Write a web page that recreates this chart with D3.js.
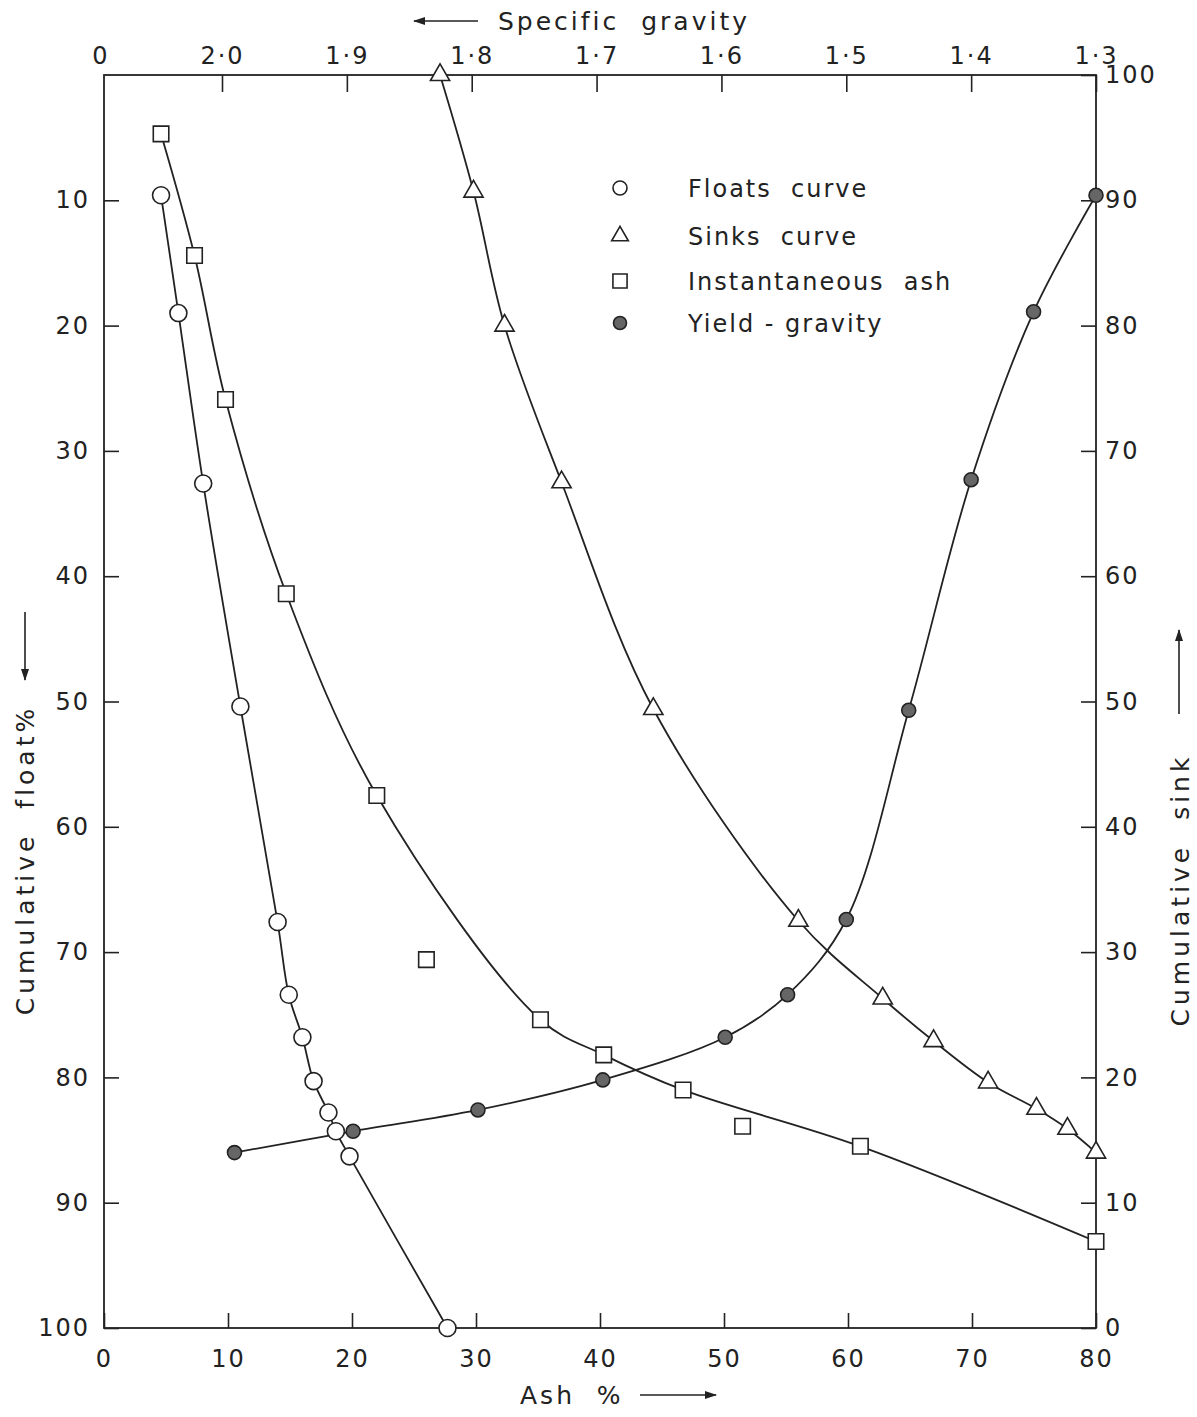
<!DOCTYPE html>
<html>
<head>
<meta charset="utf-8">
<script src="https://cdn.jsdelivr.net/npm/d3@7"></script>
<style>
  body { margin: 0; background: #fff; }
  text { font-family: "DejaVu Sans", sans-serif; fill: #222; white-space: pre; }
</style>
</head>
<body>
<div id="chart"></div>
<script>
// floats curve: ash % vs cumulative float %
var floatAsh   = [4.6, 6.0, 8.0, 11.0, 14.0, 14.9, 16.0, 16.9, 18.1, 18.7, 19.8, 27.7];
var floatCum   = [9.6, 19.0, 32.6, 50.4, 67.6, 73.4, 76.8, 80.3, 82.8, 84.3, 86.3, 100];

// sinks curve: ash % vs cumulative sink %
var sinkAsh    = [27.1, 29.8, 32.3, 36.9, 44.3, 56.0, 62.8, 66.9, 71.3, 75.2, 77.7, 80];
var sinkCum    = [100, 90.7, 80.0, 67.5, 49.4, 32.5, 26.3, 22.9, 19.6, 17.5, 15.9, 14.0];

// instantaneous ash: ash % vs cumulative float % (0 = point off the drawn curve)
var instAsh    = [4.6, 7.3, 9.8, 14.7, 22.0, 26.0, 35.2, 40.3, 46.7, 51.5, 61.0, 80];
var instFloat  = [4.7, 14.4, 25.9, 41.4, 57.5, 70.6, 75.4, 78.2, 81.0, 83.9, 85.5, 93.1];
var instOnCurve = [1, 1, 1, 1, 1, 0, 1, 1, 1, 0, 1, 1];

// yield-gravity: specific gravity vs cumulative float %
var yieldSG    = [1.99, 1.895, 1.795, 1.695, 1.597, 1.547, 1.5, 1.45, 1.4, 1.35, 1.3];
var yieldFloat = [86.0, 84.3, 82.6, 80.2, 76.8, 73.4, 67.4, 50.7, 32.3, 18.9, 9.6];

// ticks
var ashTicks   = [0, 10, 20, 30, 40, 50, 60, 70, 80];
var sgTicks    = [2.0, 1.9, 1.8, 1.7, 1.6, 1.5, 1.4, 1.3];
var floatTicks = [10, 20, 30, 40, 50, 60, 70, 80, 90, 100];
var sinkTicks  = [0, 10, 20, 30, 40, 50, 60, 70, 80, 90, 100];

var legendLabels = ['Floats  curve', 'Sinks  curve', 'Instantaneous  ash', 'Yield - gravity'];

var chart_width = 1197;
var chart_height = 1417;
var ink = '#222';

var svg = d3.select('#chart')
	.append('svg')
	.attr('width', chart_width)
	.attr('height', chart_height);

var x = d3.scaleLinear().domain([0, 80]).range([104, 1096]);
var sg = d3.scaleLinear().domain([2.0, 1.3]).range([222, 1096]);
var yFloat = d3.scaleLinear().domain([0, 100]).range([75, 1328]);
var ySink = d3.scaleLinear().domain([0, 100]).range([1328, 75]);

// arrow heads
var defs = svg.append('defs');
defs.append('marker')
	.attr('id', 'head')
	.attr('viewBox', '0 0 12 8')
	.attr('refX', 11).attr('refY', 4)
	.attr('markerWidth', 13).attr('markerHeight', 8)
	.attr('markerUnits', 'userSpaceOnUse')
	.attr('orient', 'auto')
	.append('path')
	.attr('d', 'M0,0 L12,4 L0,8 Z')
	.attr('fill', ink);

// frame
svg.append('rect')
	.attr('x', x(0)).attr('y', yFloat(0))
	.attr('width', x(80) - x(0)).attr('height', yFloat(100) - yFloat(0))
	.attr('fill', 'none').attr('stroke', ink).attr('stroke-width', 1.8);

function styleAxis(g) {
	g.select('.domain').remove();
	g.selectAll('line').attr('stroke', ink).attr('stroke-width', 1.6);
	g.selectAll('text')
		.attr('font-size', 24)
		.attr('letter-spacing', 2)
		.attr('fill', ink)
		.style('font-family', '"DejaVu Sans", sans-serif');
}

svg.append('g')
	.attr('transform', 'translate(0,' + yFloat(100) + ')')
	.call(d3.axisBottom(x).tickValues(ashTicks).tickSize(-15).tickPadding(22))
	.call(styleAxis);

svg.append('g')
	.attr('transform', 'translate(0,' + yFloat(0) + ')')
	.call(d3.axisTop(sg).tickValues(sgTicks).tickSize(-17).tickPadding(11)
		.tickFormat(function(d){ return d.toFixed(1).replace('.', '\u00b7'); }))
	.call(styleAxis);

svg.append('g')
	.attr('transform', 'translate(' + x(0) + ',0)')
	.call(d3.axisLeft(yFloat).tickValues(floatTicks).tickSize(-15).tickPadding(14))
	.call(styleAxis);

svg.append('g')
	.attr('transform', 'translate(' + x(80) + ',0)')
	.call(d3.axisRight(ySink).tickValues(sinkTicks).tickSize(-15).tickPadding(9))
	.call(styleAxis);

// corner label of the top scale
svg.append('text')
	.attr('x', x(0) - 4).attr('y', 64)
	.attr('text-anchor', 'middle')
	.attr('font-size', 24)
	.text('0');

// axis titles
svg.append('text')
	.attr('x', 498).attr('y', 30)
	.attr('font-size', 25).attr('letter-spacing', 3)
	.text('Specific  gravity');
svg.append('line')
	.attr('x1', 478).attr('y1', 21).attr('x2', 414).attr('y2', 21)
	.attr('stroke', ink).attr('stroke-width', 1.6)
	.attr('marker-end', 'url(#head)');

svg.append('text')
	.attr('x', 520).attr('y', 1404)
	.attr('font-size', 25).attr('letter-spacing', 3)
	.text('Ash  %');
svg.append('line')
	.attr('x1', 640).attr('y1', 1395).attr('x2', 716).attr('y2', 1395)
	.attr('stroke', ink).attr('stroke-width', 1.6)
	.attr('marker-end', 'url(#head)');

svg.append('text')
	.attr('transform', 'translate(34,860) rotate(-90)')
	.attr('text-anchor', 'middle')
	.attr('font-size', 25).attr('letter-spacing', 4)
	.text('Cumulative  float%');
svg.append('line')
	.attr('x1', 25).attr('y1', 612).attr('x2', 25).attr('y2', 680)
	.attr('stroke', ink).attr('stroke-width', 1.6)
	.attr('marker-end', 'url(#head)');

svg.append('text')
	.attr('transform', 'translate(1189,890) rotate(-90)')
	.attr('text-anchor', 'middle')
	.attr('font-size', 25).attr('letter-spacing', 4)
	.text('Cumulative  sink');
svg.append('line')
	.attr('x1', 1179).attr('y1', 714).attr('x2', 1179).attr('y2', 630)
	.attr('stroke', ink).attr('stroke-width', 1.6)
	.attr('marker-end', 'url(#head)');

// curves
var floatPts = floatAsh.map(function(d, i){ return [x(d), yFloat(floatCum[i])]; });
var sinkPts = sinkAsh.map(function(d, i){ return [x(d), ySink(sinkCum[i])]; });
var instPts = instAsh.map(function(d, i){ return [x(d), yFloat(instFloat[i])]; });
var yieldPts = yieldSG.map(function(d, i){ return [sg(d), yFloat(yieldFloat[i])]; });

var line = d3.line().curve(d3.curveCatmullRom.alpha(0.5));

[floatPts, sinkPts, instPts.filter(function(d, i){ return instOnCurve[i]; }), yieldPts]
	.forEach(function(pts){
		svg.append('path')
			.attr('d', line(pts))
			.attr('fill', 'none')
			.attr('stroke', ink)
			.attr('stroke-width', 1.8);
	});

// markers
function circles(pts, r, fill) {
	svg.append('g').selectAll('circle')
		.data(pts)
		.enter()
		.append('circle')
		.attr('cx', function(d){ return d[0]; })
		.attr('cy', function(d){ return d[1]; })
		.attr('r', r)
		.attr('fill', fill)
		.attr('stroke', ink)
		.attr('stroke-width', 1.6);
}
function symbols(pts, type, size) {
	svg.append('g').selectAll('path')
		.data(pts)
		.enter()
		.append('path')
		.attr('transform', function(d){ return 'translate(' + d[0] + ',' + d[1] + ')'; })
		.attr('d', d3.symbol().type(type).size(size)())
		.attr('fill', '#fff')
		.attr('stroke', ink)
		.attr('stroke-width', 1.6);
}

circles(floatPts, 8.5, '#fff');
symbols(sinkPts, d3.symbolTriangle, 160);
symbols(instPts, d3.symbolSquare, 240);
circles(yieldPts, 7, '#666');

// legend
var legY = [188, 236, 281, 323];
var legX = 620;
circles([[legX, legY[0]]], 7, '#fff');
symbols([[legX, legY[1]]], d3.symbolTriangle, 120);
symbols([[legX, legY[2]]], d3.symbolSquare, 200);
circles([[legX, legY[3]]], 6.5, '#666');

svg.append('g').selectAll('text')
	.data(legendLabels)
	.enter()
	.append('text')
	.attr('x', 688)
	.attr('y', function(d, i){ return legY[i] + 9; })
	.attr('font-size', 24)
	.attr('letter-spacing', 2)
	.text(function(d){ return d; });
</script>
</body>
</html>
